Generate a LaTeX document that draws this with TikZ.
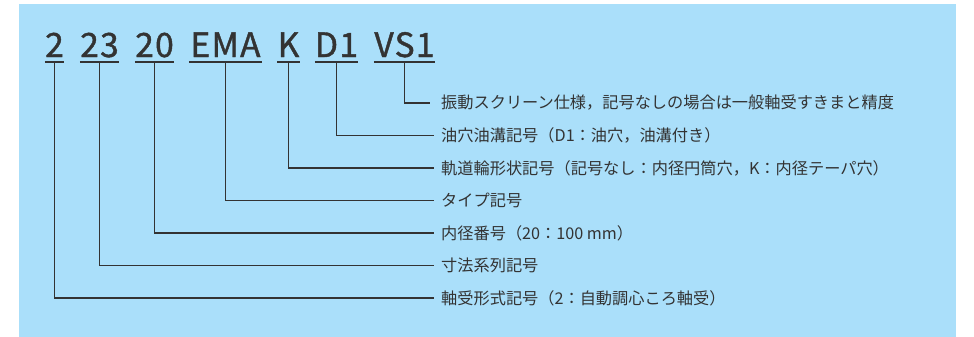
\documentclass[tikz,border=0pt]{standalone}
\usepackage{fontspec}
\setmainfont{Noto Sans CJK JP}
\newfontfamily\codefont[FakeBold=1.2,LetterSpace=4]{Noto Sans CJK JP}
\definecolor{bg}{RGB}{170,223,250}
\definecolor{ink}{RGB}{51,51,51}
\tikzset{
  code/.style={anchor=base, inner sep=0pt, text=ink, font=\codefont\fontsize{33.5}{33.5}\selectfont},
  uline/.style={draw=ink, line width=1.2pt},
  conn/.style={draw=ink, line width=1.2pt},
  lab/.style={anchor=west, inner xsep=7pt, inner ysep=0pt, text=ink, font=\fontsize{16.2}{16.2}\selectfont},
}
\begin{document}
\begin{tikzpicture}[x=1pt,y=-1pt]
\useasboundingbox (0,0) rectangle (974,337);
\fill[bg] (19,4) rectangle (956,337);
% code tokens
\node[code, minimum width=19pt] (c1) at (54.5,57) {2};
\node[code, minimum width=39pt] (c2) at (99.5,57) {23};
\node[code, minimum width=39pt] (c3) at (154.5,57) {20};
\node[code, minimum width=73pt] (c4) at (225.5,57) {EMA};
\node[code, minimum width=21pt] (c5) at (288.5,57) {K};
\node[code, minimum width=43pt] (c6) at (336.5,57) {D1};
\node[code, minimum width=61pt] (c7) at (404.5,57) {VS1};
\foreach \c in {c1,c2,c3,c4,c5,c6,c7}{
  \draw[uline] ([yshift=-5pt]\c.base west) -- ([yshift=-5pt]\c.base east);
}
% labels
\node[lab] (l1) at (434,103) {振動スクリーン仕様，記号なしの場合は一般軸受すきまと精度};
\node[lab] (l2) at (434,135.5) {油穴油溝記号（D1：油穴，油溝付き）};
\node[lab] (l3) at (434,168) {軌道輪形状記号（記号なし：内径円筒穴，K：内径テーパ穴）};
\node[lab] (l4) at (434,200.5) {タイプ記号};
\node[lab] (l5) at (434,233) {内径番号（20：100 mm）};
\node[lab] (l6) at (434,265.5) {寸法系列記号};
\node[lab] (l7) at (434,298) {軸受形式記号（2：自動調心ころ軸受）};
% connectors
\draw[conn] ([yshift=-5pt]c7.base) |- ([xshift=-4pt]l1.west);
\draw[conn] ([yshift=-5pt]c6.base) |- (l2.west);
\draw[conn] ([yshift=-5pt]c5.base) |- (l3.west);
\draw[conn] ([yshift=-5pt]c4.base) |- (l4.west);
\draw[conn] ([yshift=-5pt]c3.base) |- (l5.west);
\draw[conn] ([yshift=-5pt]c2.base) |- (l6.west);
\draw[conn] ([yshift=-5pt]c1.base) |- (l7.west);
\end{tikzpicture}
\end{document}
